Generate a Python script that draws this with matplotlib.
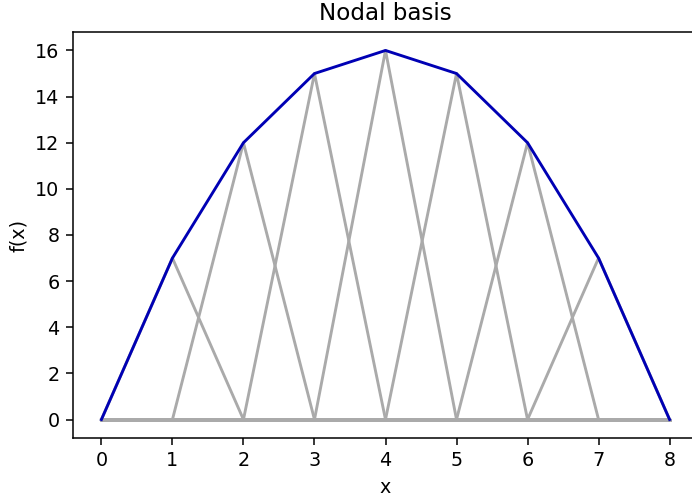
import numpy as np
import matplotlib
matplotlib.use("Agg")
import matplotlib.pyplot as plt

# Nodes and nodal values of f(x) = x * (8 - x)
nodes = [0, 1, 2, 3, 4, 5, 6, 7, 8]
values = [0, 7, 12, 15, 16, 15, 12, 7, 0]

DPI = 138
fig = plt.figure(figsize=(692 / DPI, 500 / DPI), dpi=DPI)
ax = fig.add_axes([73 / 692, 62 / 500, 625 / 692, 406 / 500])

# Each hat basis function scaled by its nodal value, drawn over the whole mesh
for i, v in enumerate(values):
    hat = [v if j == i else 0 for j in range(len(nodes))]
    ax.plot(nodes, hat, color="#aaaaaa", lw=1.5)

# Interpolant = sum of scaled basis functions
ax.plot(nodes, values, color="#0000b4", lw=1.5)

ax.set_xlim(-0.4, 8.4)
ax.set_ylim(-0.8, 16.8)
ax.set_xticks(nodes)
ax.set_yticks(range(0, 17, 2))
ax.set_xlabel("x")
ax.set_ylabel("f(x)")
ax.set_title("Nodal basis")

fig.savefig("out.png", dpi=DPI)
